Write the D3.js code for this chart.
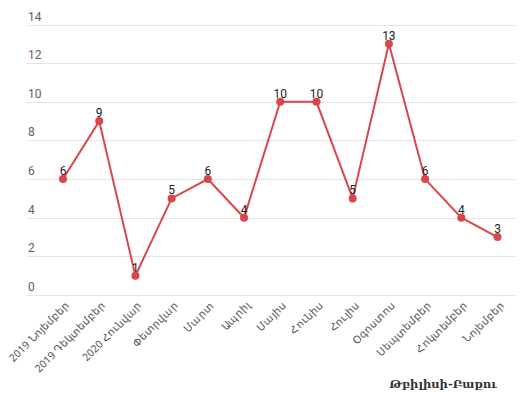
<!DOCTYPE html>
<html>
<head>
<meta charset="utf-8">
<script src="https://cdn.jsdelivr.net/npm/d3@7"></script>
<style>
  body { margin: 0; background: #fff; }
</style>
</head>
<body>
<svg id="chart" width="525" height="398"></svg>
<script>
let months = ['2019 Նոյեմբեր', '2019 Դեկտեմբեր', '2020 Հունվար', 'Փետրվար', 'Մարտ', 'Ապրիլ',
  'Մայիս', 'Հունիս', 'Հուլիս', 'Օգոստոս', 'Սեպտեմբեր', 'Հոկտեմբեր', 'Նոյեմբեր'];
let counts = [6, 9, 1, 5, 6, 4, 10, 10, 5, 13, 6, 4, 3];
let yTicks = [0, 2, 4, 6, 8, 10, 12, 14];
let title = 'Թբիլիսի-Բաքու';

let svg = d3.select('#chart');

let x = d3.scalePoint()
  .domain(months)
  .range([63, 497.5]);

let y = d3.scaleLinear()
  .domain([0, 14])
  .range([295, 24.5]);

// grid + y labels
let grid = svg.append('g');
grid.selectAll('line')
  .data(yTicks)
  .enter()
  .append('line')
  .attr('x1', 27)
  .attr('x2', 515)
  .attr('y1', d => Math.round(y(d)) + 0.5)
  .attr('y2', d => Math.round(y(d)) + 0.5)
  .attr('stroke', '#e3e3e3')
  .attr('stroke-width', 1);

grid.selectAll('text')
  .data(yTicks)
  .enter()
  .append('text')
  .attr('x', 28)
  .attr('y', d => y(d) - 4)
  .text(d => d)
  .style('font-family', 'Roboto, sans-serif')
  .style('font-size', '12px')
  .attr('fill', '#606060');

// x labels
svg.append('g')
  .selectAll('text')
  .data(months)
  .enter()
  .append('text')
  .attr('transform', d => `translate(${x(d) + 7},${306}) rotate(-45)`)
  .attr('text-anchor', 'end')
  .text(d => d)
  .style('font-family', '"Noto Sans", sans-serif')
  .style('font-size', '10.5px')
  .attr('fill', '#555');

// line
let line = d3.line()
  .x((d, i) => x(months[i]))
  .y(d => y(d));

svg.append('path')
  .datum(counts)
  .attr('d', line)
  .attr('fill', 'none')
  .attr('stroke', '#d9464d')
  .attr('stroke-width', 2);

svg.append('g')
  .selectAll('circle')
  .data(counts)
  .enter()
  .append('circle')
  .attr('cx', (d, i) => x(months[i]))
  .attr('cy', d => y(d))
  .attr('r', 4)
  .attr('fill', '#d9464d');

svg.append('g')
  .selectAll('text')
  .data(counts)
  .enter()
  .append('text')
  .attr('x', (d, i) => x(months[i]))
  .attr('y', d => y(d) - 4)
  .attr('text-anchor', 'middle')
  .text(d => d)
  .style('font-family', 'Roboto, sans-serif')
  .style('font-size', '12px')
  .attr('fill', '#222');

svg.append('text')
  .attr('x', 497)
  .attr('y', 388)
  .attr('text-anchor', 'end')
  .text(title)
  .style('font-family', '"DejaVu Serif", serif')
  .style('font-weight', 'bold')
  .style('font-size', '11.5px')
  .attr('fill', '#333');
</script>
</body>
</html>
